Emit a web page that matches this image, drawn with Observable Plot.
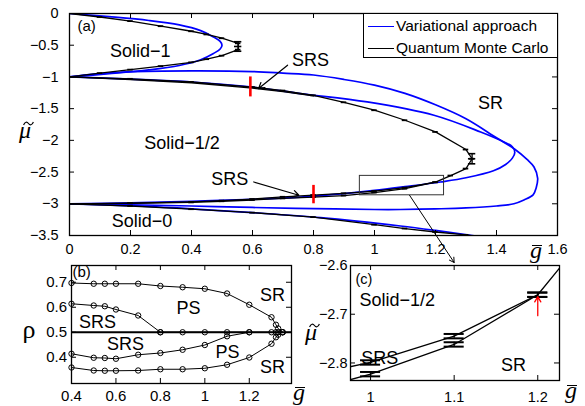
<!DOCTYPE html>
<html><head><meta charset="utf-8">
<script src="https://cdn.jsdelivr.net/npm/d3@7"></script>
<script src="https://cdn.jsdelivr.net/npm/@observablehq/plot@0.6"></script>
<style>
html,body{margin:0;padding:0;background:#fff;}
#fig{position:relative;width:585px;height:406px;overflow:hidden;font-family:"Liberation Sans",Arial,sans-serif;}
#fig > svg{position:absolute;}
.lab{position:absolute;font-family:"Liberation Serif","DejaVu Serif",serif;font-style:italic;transform:translate(-50%,-50%);line-height:1;white-space:nowrap;}
.acc{position:relative;display:inline-block;line-height:1;}
.acc .tl{position:absolute;overflow:visible;}
.acc .br{position:absolute;height:0;border-top:1.5px solid #000;}
#legend{position:absolute;left:363px;top:13px;width:195px;height:45px;border:1px solid #000;background:#fff;font-size:15.5px;box-sizing:border-box;}
.row{position:absolute;left:4px;height:20px;display:flex;align-items:center;white-space:nowrap;}
.sw{display:inline-block;width:26px;height:0;border-top:1.6px solid;margin-right:2px;}
</style></head>
<body><div id="fig"></div>
<script>
// ================= DATA =================
// Panel (a) ticks
const aXTicks = [0, 0.2, 0.4, 0.6, 0.8, 1, 1.2, 1.4, 1.6];
const aYTicks = [0, -0.5, -1, -1.5, -2, -2.5, -3, -3.5];

// Variational approach (blue)
const varSolid1G  = [0, 0.13, 0.26, 0.36, 0.43, 0.472, 0.494, 0.5, 0.494, 0.472, 0.43, 0.36, 0.26, 0.13, 0];
const varSolid1Mu = [0, -0.05, -0.11, -0.18, -0.27, -0.37, -0.44, -0.5, -0.56, -0.63, -0.73, -0.82, -0.89, -0.95, -1];
const varOuterG  = [0, 0.08, 0.19, 0.4, 0.6, 0.7, 0.8, 0.9, 1.0, 1.1, 1.2, 1.3, 1.4, 1.46, 1.5, 1.523, 1.535, 1.53, 1.52, 1.49, 1.457, 1.4, 1.3, 1.2, 1.085, 1.0, 0.8, 0.6, 0.4, 0.2, 0];
const varOuterMu = [-1, -0.955, -0.92, -0.905, -0.915, -0.94, -0.97, -1.04, -1.13, -1.26, -1.44, -1.66, -1.96, -2.14, -2.3, -2.42, -2.6, -2.75, -2.86, -2.94, -3.0, -3.035, -3.066, -3.08, -3.09, -3.09, -3.076, -3.058, -3.035, -3.015, -3];
const varInnerG  = [0, 0.2, 0.4, 0.6, 0.757, 0.976, 1.195, 1.348, 1.413, 1.452, 1.46, 1.452, 1.43, 1.39, 1.3, 1.216, 1.1, 1.0, 0.9, 0.757, 0.6, 0.4, 0.2, 0];
const varInnerMu = [-1, -1.035, -1.08, -1.16, -1.262, -1.394, -1.604, -1.868, -2.0, -2.1, -2.19, -2.28, -2.38, -2.48, -2.59, -2.656, -2.73, -2.79, -2.84, -2.895, -2.93, -2.96, -2.985, -3];
const varSolid0G  = [0, 0.2, 0.4, 0.6, 0.823, 1.085, 1.2, 1.315, 1.36];
const varSolid0Mu = [-3, -3.03, -3.08, -3.14, -3.218, -3.35, -3.42, -3.497, -3.53];

// Quantum Monte Carlo (black)
const qmcSolid1G  = [0, 0.1, 0.2, 0.3, 0.4, 0.45, 0.5, 0.553, 0.553, 0.5, 0.45, 0.4, 0.3, 0.2, 0.1, 0];
const qmcSolid1Mu = [0, -0.055, -0.12, -0.2, -0.28, -0.33, -0.39, -0.47, -0.57, -0.665, -0.72, -0.77, -0.83, -0.885, -0.94, -1];
const qmcMainG  = [0, 0.2, 0.4, 0.6, 0.7, 0.8, 0.9, 1.0, 1.1, 1.2, 1.3, 1.32, 1.3, 1.25, 1.2, 1.1, 1.0, 0.9, 0.8, 0.7, 0.6, 0.5, 0.4, 0.2, 0];
const qmcMainMu = [-1, -1.03, -1.078, -1.16, -1.215, -1.29, -1.4, -1.525, -1.683, -1.867, -2.145, -2.29, -2.445, -2.555, -2.66, -2.745, -2.799, -2.835, -2.862, -2.89, -2.925, -2.95, -2.97, -2.99, -3];
const qmcUpper2G  = [0, 0.2, 0.4, 0.6, 0.7, 0.8];
const qmcUpper2Mu = [-1, -1.042, -1.092, -1.177, -1.232, -1.3];
const qmcLowerG  = [1.2, 1.1, 1.0, 0.9, 0.8, 0.7, 0.6, 0.5, 0.4, 0.2, 0];
const qmcLowerMu = [-2.66, -2.762, -2.823, -2.87, -2.895, -2.915, -2.94, -2.96, -2.978, -2.992, -3];
const qmcSolid0G  = [0, 0.2, 0.4, 0.6, 0.8, 1.0, 1.1, 1.2, 1.3, 1.34];
const qmcSolid0Mu = [-3, -3.035, -3.085, -3.14, -3.21, -3.33, -3.39, -3.445, -3.49, -3.52];
const qmcErrG   = [0.553, 1.32];
const qmcErrMu  = [-0.52, -2.29];
const qmcErrHalf = [0.075, 0.08];

// red markers, zoom box, annotations in (a)
const redG = [0.593, 0.8];
const redMuTop = [-1.0, -2.71];
const redMuBot = [-1.315, -3.0];
const zoomBoxG = [0.952, 1.228];
const zoomBoxMu = [-2.866, -2.56];
const labelsA = ["Solid\u22121", "Solid\u22121/2", "Solid\u22120", "SR", "SRS", "SRS"];
const labelsAG = [0.232, 0.369, 0.238, 1.38, 0.79, 0.525];
const labelsAMu = [-0.59, -2.05, -3.27, -1.42, -0.73, -2.62];
const arrowsAFromG = [0.715, 0.604];
const arrowsAFromMu = [-0.815, -2.656];
const arrowsAToG = [0.62, 0.752];
const arrowsAToMu = [-1.183, -2.866];

// Panel (b)
const bXTicks = [0.4, 0.6, 0.8, 1, 1.2];
const bYTicks = [0.4, 0.5, 0.6, 0.7];
const bTopG   = [0.4, 0.5, 0.55, 0.6, 0.7, 0.8, 0.9, 1.0, 1.1, 1.2, 1.3, 1.32, 1.33, 1.35];
const bTopRho = [0.697, 0.694, 0.694, 0.694, 0.694, 0.685, 0.68, 0.674, 0.655, 0.61, 0.56, 0.53, 0.515, 0.5];
const bSrsUpG   = [0.4, 0.5, 0.55, 0.6, 0.7, 0.8];
const bSrsUpRho = [0.614, 0.607, 0.604, 0.591, 0.567, 0.5];
const bHalfG   = [0.8, 0.9, 1.0, 1.1, 1.2, 1.3, 1.32, 1.33, 1.35];
const bHalfRho = [0.5, 0.5, 0.5, 0.5, 0.5, 0.5, 0.5, 0.5, 0.5];
const bSrsLoG   = [0.4, 0.5, 0.55, 0.6, 0.7, 0.8, 0.9, 1.0, 1.1, 1.2];
const bSrsLoRho = [0.414, 0.398, 0.397, 0.394, 0.41, 0.417, 0.43, 0.449, 0.484, 0.5];
const bBotG   = [0.4, 0.5, 0.55, 0.6, 0.7, 0.8, 0.9, 1.0, 1.1, 1.2, 1.3, 1.32, 1.33, 1.35];
const bBotRho = [0.359, 0.347, 0.346, 0.346, 0.347, 0.352, 0.352, 0.356, 0.37, 0.399, 0.454, 0.48, 0.49, 0.5];
const labelsB = ["SR", "PS", "SRS", "SRS", "PS", "SR"];
const labelsBG = [1.305, 0.927, 0.517, 0.643, 1.102, 1.305];
const labelsBRho = [0.647, 0.595, 0.539, 0.451, 0.419, 0.359];

// Panel (c)
const cXTicks = [1, 1.1, 1.2];
const cYTicks = [-2.6, -2.7, -2.8];
const cG = [1.0, 1.1, 1.2];
const cUpperMu = [-2.799, -2.745, -2.66];
const cLowerMu = [-2.823, -2.762, -2.66];
const cErr = [0.0045, 0.0045, 0.0045];
const labelsC = ["Solid\u22121/2", "SRS", "SR"];
const labelsCG = [1.032, 1.011, 1.171];
const labelsCMu = [-2.671, -2.79, -2.804];
const cRedArrowG = [1.2];
const cRedArrowFrom = [-2.703];
const cRedArrowTo = [-2.664];

// ================= HELPERS =================
const BLUE = "#0000ff";
const FONT = "Liberation Sans, Arial, sans-serif";
const fmt = d => (d < 0 ? "\u2212" : "") + String(Math.abs(d));
const zip = (g, m) => g.map((x, i) => ({g: x, v: m[i]}));
const baseStyle = {background: "transparent", overflow: "visible", maxWidth: "none", fontFamily: FONT};

function frameMarks(xt, yt, iw, ih, fs, padX, padY, len = 5) {
  return [
    Plot.frame({strokeWidth: 1.3}),
    Plot.tickX(xt, {x: d => d, insetTop: ih - len}),
    Plot.tickX(xt, {x: d => d, insetBottom: ih - len}),
    Plot.tickY(yt, {y: d => d, insetRight: iw - len}),
    Plot.tickY(yt, {y: d => d, insetLeft: iw - len}),
    Plot.axisX(xt, {tickSize: 0, tickPadding: padX, tickFormat: fmt, fontSize: fs, label: null}),
    Plot.axisY(yt, {tickSize: 0, tickPadding: padY, tickFormat: fmt, fontSize: fs, label: null})
  ];
}
const lineB = (g, m) => Plot.line(zip(g, m), {x: "g", y: "v", stroke: BLUE, strokeWidth: 1.7, curve: "catmull-rom", clip: true});
const lineK = (g, m, w = 1.3) => Plot.line(zip(g, m), {x: "g", y: "v", stroke: "black", strokeWidth: w, clip: true});
const capsK = (g, m, hw) => Plot.ruleY(zip(g, m).filter(d => d.g > 0 && d.v > -3.5), {y: "v", x1: d => d.g - hw, x2: d => d.g + hw, strokeWidth: 1.8});

// ================= PANEL (c) =================
const C = {w: 285, h: 156, ml: 50, mr: 26, mt: 15, mb: 26, left: 300, top: 250};
const cIW = C.w - C.ml - C.mr, cIH = C.h - C.mt - C.mb;
const cData = cG.map((g, i) => ({g, up: cUpperMu[i], lo: cLowerMu[i], e: cErr[i]}));
const cBars = cData.flatMap(d => [{g: d.g, v: d.up, e: d.e}, {g: d.g, v: d.lo, e: d.e}]);
const plotC = Plot.plot({
  width: C.w, height: C.h, marginLeft: C.ml, marginRight: C.mr, marginTop: C.mt, marginBottom: C.mb,
  x: {domain: [0.976, 1.226]}, y: {domain: [-2.836, -2.6]},
  style: {...baseStyle, fontSize: "14.5px"},
  marks: [
    lineK(qmcMainG, qmcMainMu, 1.3),
    lineK(qmcLowerG, qmcLowerMu, 1.3),
    Plot.ruleX(cBars, {x: "g", y1: d => d.v - d.e, y2: d => d.v + d.e, strokeWidth: 1.3}),
    Plot.ruleY(cBars, {y: d => d.v - d.e, x1: d => d.g - 0.012, x2: d => d.g + 0.012, strokeWidth: 2}),
    Plot.ruleY(cBars, {y: d => d.v + d.e, x1: d => d.g - 0.012, x2: d => d.g + 0.012, strokeWidth: 2}),
    Plot.arrow(cRedArrowG.map((g, i) => ({g, a: cRedArrowFrom[i], b: cRedArrowTo[i]})),
      {x1: "g", y1: "a", x2: "g", y2: "b", stroke: "red", strokeWidth: 1.3, headLength: 7}),
    Plot.text(labelsC.map((t, i) => ({t, g: labelsCG[i], v: labelsCMu[i]})), {x: "g", y: "v", text: "t", fontSize: 18}),
    Plot.text(["(c)"], {frameAnchor: "top-left", dx: 5, dy: 8, fontSize: 14.5, textAnchor: "start", lineAnchor: "top"}),
    ...frameMarks(cXTicks, cYTicks, cIW, cIH, 14.5, 11, 3)
  ]
});

// ================= PANEL (a) =================
const A = {w: 585, h: 262, ml: 69, mr: 28, mt: 13, mb: 27};
const aIW = A.w - A.ml - A.mr, aIH = A.h - A.mt - A.mb;
function buildA(extra) {
  return Plot.plot({
    width: A.w, height: A.h, marginLeft: A.ml, marginRight: A.mr, marginTop: A.mt, marginBottom: A.mb,
    x: {domain: [0, 1.6]}, y: {domain: [-3.5, 0]},
    style: {...baseStyle, fontSize: "14.5px"},
    marks: [
      lineB(varSolid1G, varSolid1Mu),
      lineB(varOuterG, varOuterMu),
      lineB(varInnerG, varInnerMu),
      lineB(varSolid0G, varSolid0Mu),
      lineK(qmcSolid1G, qmcSolid1Mu),
      lineK(qmcMainG, qmcMainMu),
      lineK(qmcUpper2G, qmcUpper2Mu),
      lineK(qmcLowerG, qmcLowerMu),
      lineK(qmcSolid0G, qmcSolid0Mu),
      capsK(qmcSolid1G, qmcSolid1Mu, 0.009),
      capsK(qmcMainG, qmcMainMu, 0.009),
      capsK(qmcLowerG, qmcLowerMu, 0.009),
      capsK(qmcSolid0G, qmcSolid0Mu, 0.009),
      Plot.ruleX(qmcErrG.map((g, i) => ({g, v: qmcErrMu[i], e: qmcErrHalf[i]})), {x: "g", y1: d => d.v - d.e, y2: d => d.v + d.e, strokeWidth: 1.3}),
      ...[-1, 0, 1].map(k => Plot.ruleY(qmcErrG.map((g, i) => ({g, v: qmcErrMu[i] + k * qmcErrHalf[i]})), {y: "v", x1: d => d.g - 0.012, x2: d => d.g + 0.012, strokeWidth: 1.6})),
      Plot.ruleX(redG.map((g, i) => ({g, a: redMuTop[i], b: redMuBot[i]})), {x: "g", y1: "a", y2: "b", stroke: "red", strokeWidth: 2.6}),
      Plot.rect([{}], {x1: zoomBoxG[0], x2: zoomBoxG[1], y1: zoomBoxMu[0], y2: zoomBoxMu[1], fill: "none", stroke: "#333", strokeWidth: 1}),
      Plot.arrow(arrowsAFromG.map((g, i) => ({g1: g, m1: arrowsAFromMu[i], g2: arrowsAToG[i], m2: arrowsAToMu[i]})),
        {x1: "g1", y1: "m1", x2: "g2", y2: "m2", strokeWidth: 1.2, headLength: 8}),
      Plot.text(labelsA.map((t, i) => ({t, g: labelsAG[i], v: labelsAMu[i]})), {x: "g", y: "v", text: "t", fontSize: 18}),
      Plot.text(["(a)"], {frameAnchor: "top-left", dx: 8, dy: 7, fontSize: 15, textAnchor: "start", lineAnchor: "top"}),
      ...extra,
      ...frameMarks(aXTicks, aYTicks, aIW, aIH, 14.5, 8, 11)
    ]
  });
}
const plotA0 = buildA([]);
// cross-panel arrow from the zoom box down to panel (c), located via the scales
const endPx = C.left + plotC.scale("x").apply(cXTicks[1]);
const endPy = C.top + plotC.scale("y").apply(cYTicks[0]) - 3;
const crossArrow = [{g1: 1.115, m1: zoomBoxMu[0], g2: plotA0.scale("x").invert(endPx), m2: plotA0.scale("y").invert(endPy)}];
const plotA = buildA([Plot.arrow(crossArrow, {x1: "g1", y1: "m1", x2: "g2", y2: "m2", strokeWidth: 1, headLength: 8})]);

// ================= PANEL (b) =================
const B = {w: 300, h: 156, ml: 71, mr: 9, mt: 15, mb: 23, left: 0, top: 250};
const bIW = B.w - B.ml - B.mr, bIH = B.h - B.mt - B.mb;
const bSeries = [[bTopG, bTopRho], [bSrsUpG, bSrsUpRho], [bHalfG, bHalfRho], [bSrsLoG, bSrsLoRho], [bBotG, bBotRho]];
const plotB = Plot.plot({
  width: B.w, height: B.h, marginLeft: B.ml, marginRight: B.mr, marginTop: B.mt, marginBottom: B.mb,
  x: {domain: [0.4, 1.39]}, y: {domain: [0.295, 0.767]},
  style: {...baseStyle, fontSize: "15px"},
  marks: [
    Plot.ruleY([0.5], {strokeWidth: 2.2}),
    ...bSeries.map(([g, r]) => Plot.line(zip(g, r), {x: "g", y: "v", strokeWidth: 1})),
    ...bSeries.map(([g, r]) => Plot.dot(zip(g, r), {x: "g", y: "v", r: 2.7, stroke: "black", fill: "none", strokeWidth: 1})),
    Plot.text(labelsB.map((t, i) => ({t, g: labelsBG[i], v: labelsBRho[i]})), {x: "g", y: "v", text: "t", fontSize: 18}),
    Plot.text(["(b)"], {frameAnchor: "top-left", dx: 1, dy: 1, fontSize: 15, textAnchor: "start", lineAnchor: "top"}),
    ...frameMarks(bXTicks, bYTicks, bIW, bIH, 15, 7, 4.5)
  ]
});

// ================= ASSEMBLY =================
const fig = document.getElementById("fig");
function place(el, left, top) { el.style.left = left + "px"; el.style.top = top + "px"; fig.appendChild(el); }
place(plotA, 0, 0);
place(plotB, B.left, B.top);
place(plotC, C.left, C.top);

const TILDE_SVG = '<svg class="tl" width="11" height="5" viewBox="0 0 11 5" style="left:0.17em;top:0.14em"><path d="M0.6,4 C2,0.6 4,0.6 5.5,2.5 S9,4.4 10.4,1" fill="none" stroke="#000" stroke-width="1.2"/></svg>';
function label(base, mark, x, y, size, italic = true) {
  const d = document.createElement("div");
  d.className = "lab";
  if (mark === "tilde") {
    d.innerHTML = `<span class="acc">${base}${TILDE_SVG}</span>`;
  } else if (mark === "bar") {
    d.innerHTML = `<span class="acc">${base}<span class="br" style="left:0.1em;width:0.42em;top:0.3em"></span></span>`;
  } else {
    d.textContent = base;
  }
  d.style.left = x + "px"; d.style.top = y + "px"; d.style.fontSize = size + "px";
  if (!italic) d.style.fontStyle = "normal";
  fig.appendChild(d);
}
label("\u03bc", "tilde", 25, 130, 24);
label("g", "bar", 536, 250, 24);
label("\u03c1", null, 29, 330, 26, false);
label("g", "bar", 299, 392, 24);
label("\u03bc", "tilde", 311, 332, 24);
label("g", "bar", 571, 390, 24);

// legend
const legendItems = ["Variational approach", "Quantum Monte Carlo"];
const legendColors = [BLUE, "black"];
const lg = document.createElement("div");
lg.id = "legend";
legendItems.forEach((t, i) => {
  const r = document.createElement("div");
  r.className = "row";
  r.style.top = (2 + i * 22) + "px";
  r.innerHTML = `<span class="sw" style="border-color:${legendColors[i]}"></span><span>${t}</span>`;
  lg.appendChild(r);
});
fig.appendChild(lg);
</script>
</body></html>
